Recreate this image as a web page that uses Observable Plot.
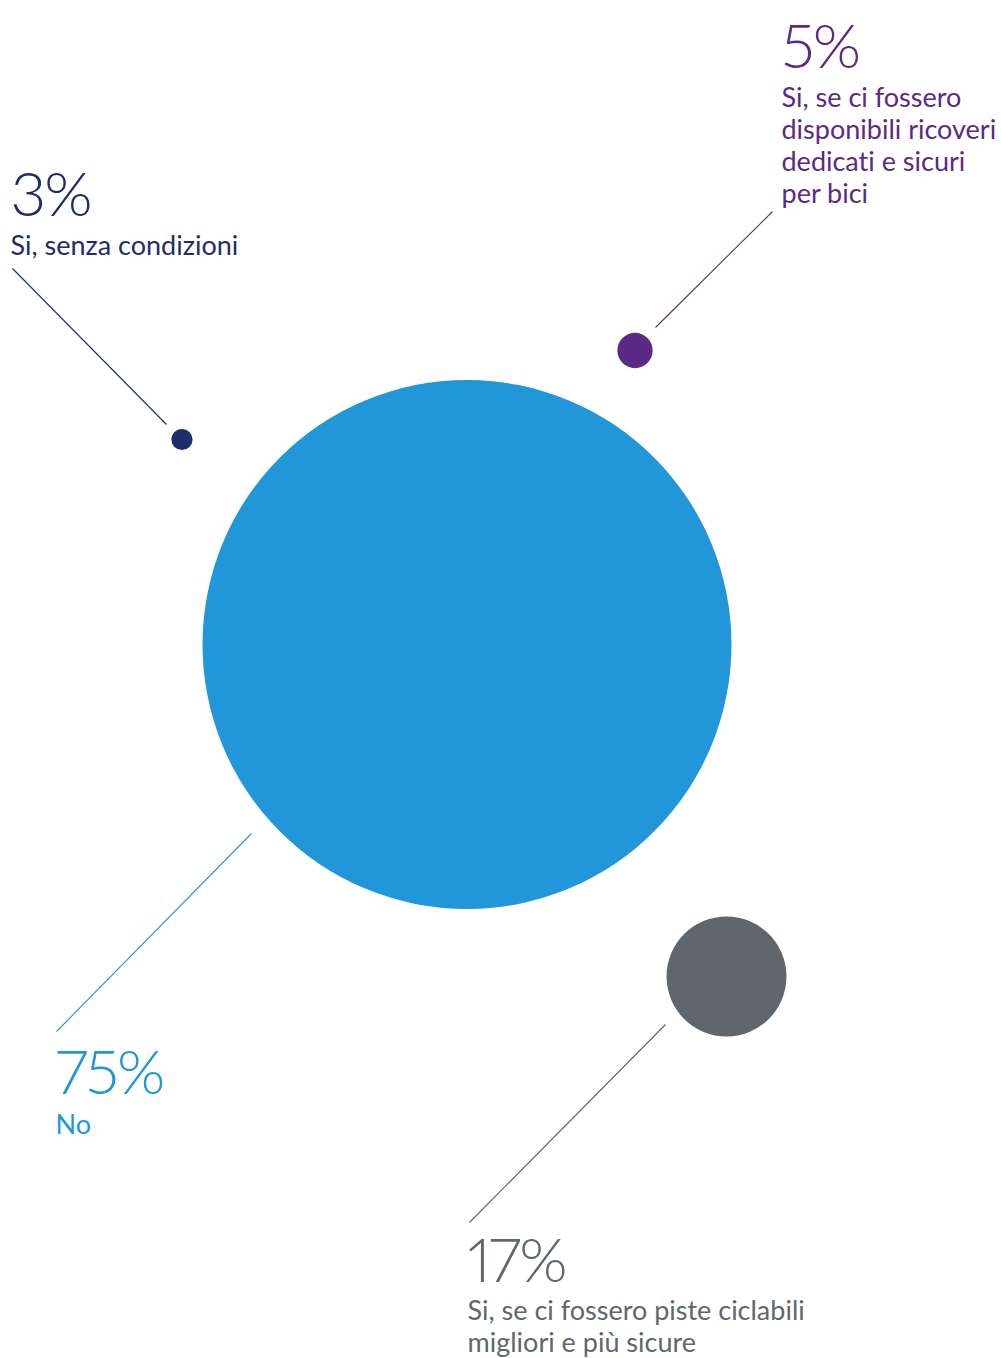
<!DOCTYPE html>
<html>
<head>
<meta charset="utf-8">
<script src="https://cdn.jsdelivr.net/npm/d3@7"></script>
<script src="https://cdn.jsdelivr.net/npm/@observablehq/plot@0.6"></script>
<style>
  html, body { margin: 0; padding: 0; background: #fff; }
  #chart svg { display: block; }
  #chart svg text { font-variant-ligatures: none; }
  #chart svg .pct text { font-variant-numeric: proportional-nums; letter-spacing: -2px; }
</style>
</head>
<body>
<div id="chart"></div>
<script>
// ---- data ----
const categories = ["senza", "ricoveri", "no", "piste"];
const values = [3, 5, 75, 17];
const pctLabels = ["3%", "5%", "75%", "17%"];
const descLabels = [
  "Si, senza condizioni",
  "Si, se ci fossero\ndisponibili ricoveri\ndedicati e sicuri\nper bici",
  "No",
  "Si, se ci fossero piste ciclabili\nmigliori e più sicure"
];
const colors = ["#1f2d6b", "#5b2a86", "#2196d8", "#5f676c"];

// ---- layout (page pixels) ----
const layout = {
  senza:    {cx: 181.5, cy: 439, tx: 10,  pctBase: 215,  labBase: 254,  l: [12, 268, 166, 424]},
  ricoveri: {cx: 634.5, cy: 350, tx: 781, pctBase: 67,   labBase: 106,  l: [772, 211, 655, 327]},
  no:       {cx: 466.5, cy: 644, tx: 55,  pctBase: 1093, labBase: 1133, l: [251, 833, 56, 1031]},
  piste:    {cx: 726,   cy: 976, tx: 467, pctBase: 1281, labBase: 1319, l: [665, 1024, 469, 1222]}
};
const lineStep = 32;

const rows = categories.map((c, i) => {
  const L = layout[c];
  const nLines = descLabels[i].split("\n").length;
  return {
    cat: c, value: values[i], pct: pctLabels[i], label: descLabels[i], color: colors[i],
    cx: L.cx, cy: L.cy, tx: L.tx, pctBase: L.pctBase,
    labLast: L.labBase + (nLines - 1) * lineStep,
    x1: L.l[0], y1: L.l[1], x2: L.l[2], y2: L.l[3]
  };
});

const W = 1001, H = 1358;
const chart = Plot.plot({
  width: W, height: H, margin: 0,
  x: {domain: [0, W], axis: null},
  y: {domain: [0, H], reverse: true, axis: null},
  r: {type: "linear", domain: [0, 75], range: [0, 264.5]},
  style: {fontFamily: "Lato, 'Noto Sans', sans-serif", background: "#fff"},
  marks: [
    Plot.link(rows, {x1: "x1", y1: "y1", x2: "x2", y2: "y2", stroke: d => d.color, strokeWidth: 1.1}),
    Plot.dot(rows, {x: "cx", y: "cy", r: "value", fill: d => d.color, stroke: null}),
    Plot.text(rows, {x: "tx", y: "pctBase", text: "pct", fill: d => d.color, textAnchor: "start",
      lineAnchor: "bottom", fontSize: 62, fontWeight: 300, className: "pct"}),
    Plot.text(rows, {x: "tx", y: "labLast", text: "label", fill: d => d.color, textAnchor: "start",
      lineAnchor: "bottom", fontSize: 27, lineHeight: lineStep / 27})
  ]
});
document.getElementById("chart").appendChild(chart);
</script>
</body>
</html>
